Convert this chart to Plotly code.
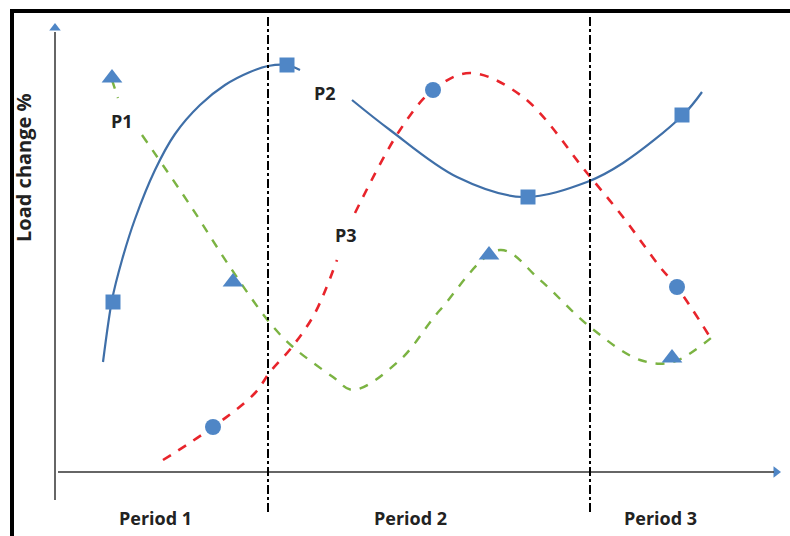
import plotly.graph_objects as go

# ---- data (schematic units: x = time, y = load change) ----
p2a_x = [45, 54, 64, 77, 97, 117, 142, 167, 192, 210, 229, 242]
p2a_y = [110, 172, 212, 253, 302, 338, 367, 387, 400, 406, 407, 402]
p2b_x = [294, 332, 399, 465, 529, 565, 625, 644]
p2b_y = [372, 342, 295, 275, 290, 309, 357, 380]
p2_mx = [55, 229, 470, 624]
p2_my = [170, 407, 275, 357]

p3_x = [105, 155, 197, 212, 234, 257, 279, None, 297, 342, 375, 412, 465, 529, 565, 602, 619, 652]
p3_y = [12, 45, 79, 100, 125, 159, 212, None, 259, 342, 382, 399, 375, 299, 255, 205, 185, 135]
p3_mx = [155, 375, 619]
p3_my = [45, 382, 185]

p1_x = [54, 60, None, 84, 132, 172, 212, 235, 275, 295, 342, 382, 442, 482, 532, 582, 615, 659]
p1_y = [392, 374, None, 337, 267, 205, 149, 125, 95, 82, 112, 162, 222, 192, 145, 112, 110, 139]
p1_mx = [54, 175, 431, 614]
p1_my = [394, 190, 217, 114]

period_bounds = [210, 532]
period_labels = ["Period 1", "Period 2", "Period 3"]
period_label_x = [97, 352, 602]
curve_labels = ["P1", "P2", "P3"]
curve_label_x = [64, 267, 288]
curve_label_y = [351, 379, 237]

BLUE_LINE = "#3f6fa8"
BLUE_MK = "#4f86c6"
RED = "#e8242b"
GREEN = "#7bb342"
TXT = "#222222"

fig = go.Figure()

fig.add_trace(go.Scatter(x=p2a_x, y=p2a_y, mode="lines",
                         line=dict(color=BLUE_LINE, width=2.2, shape="spline", smoothing=0.8)))
fig.add_trace(go.Scatter(x=p2b_x, y=p2b_y, mode="lines",
                         line=dict(color=BLUE_LINE, width=2.2, shape="spline", smoothing=1.0)))
fig.add_trace(go.Scatter(x=p3_x, y=p3_y, mode="lines", connectgaps=False,
                         line=dict(color=RED, width=2.6, dash="dash", shape="spline", smoothing=1.0)))
fig.add_trace(go.Scatter(x=p1_x, y=p1_y, mode="lines", connectgaps=False,
                         line=dict(color=GREEN, width=2.4, dash="dash", shape="spline", smoothing=1.0)))

fig.add_trace(go.Scatter(x=p2_mx, y=p2_my, mode="markers",
                         marker=dict(symbol="square", size=15, color=BLUE_MK)))
fig.add_trace(go.Scatter(x=p3_mx, y=p3_my, mode="markers",
                         marker=dict(symbol="circle", size=16, color=BLUE_MK)))
fig.add_trace(go.Scatter(x=p1_mx, y=p1_my, mode="markers",
                         marker=dict(symbol="triangle-up", size=18, color=BLUE_MK)))

# axis arrows
fig.add_shape(type="line", x0=-3, x1=-3, y0=-28, y1=440, line=dict(color="#333333", width=1.5))
fig.add_shape(type="line", x0=0, x1=716, y0=0, y1=0, line=dict(color="#333333", width=1.5))
fig.add_trace(go.Scatter(x=[-3], y=[444], mode="markers",
                         marker=dict(symbol="triangle-up", size=10, color=BLUE_MK)))
fig.add_trace(go.Scatter(x=[718], y=[0], mode="markers",
                         marker=dict(symbol="triangle-right", size=10, color=BLUE_MK)))

# period boundaries
for xb in period_bounds:
    fig.add_shape(type="line", x0=xb, x1=xb, y0=-40, y1=458,
                  line=dict(color="black", width=2, dash="dashdot"))

# frame
fig.add_shape(type="line", xref="paper", yref="paper", x0=12/790, x1=12/790, y0=0, y1=1 - 10/536,
              line=dict(color="black", width=4))
fig.add_shape(type="line", xref="paper", yref="paper", x0=10/790, x1=1, y0=1 - 11/536, y1=1 - 11/536,
              line=dict(color="black", width=4))

for lbl, lx in zip(period_labels, period_label_x):
    fig.add_annotation(x=lx, y=-46, text=f"<b>{lbl}</b>", showarrow=False,
                       font=dict(family="Open Sans", size=18, color=TXT))
for lbl, lx, ly in zip(curve_labels, curve_label_x, curve_label_y):
    fig.add_annotation(x=lx, y=ly, text=f"<b>{lbl}</b>", showarrow=False,
                       font=dict(family="Open Sans", size=18, color=TXT))

fig.add_annotation(x=-35, y=304, text="<b>Load change %</b>", showarrow=False, textangle=-90,
                   font=dict(family="Open Sans", size=20, color=TXT))

fig.update_layout(
    width=790, height=536,
    margin=dict(l=0, r=0, t=0, b=0),
    paper_bgcolor="white", plot_bgcolor="white",
    showlegend=False,
    xaxis=dict(range=[-58, 732], visible=False, fixedrange=True),
    yaxis=dict(range=[-64, 472], visible=False, fixedrange=True),
)

fig.write_html("out.html", config={"displayModeBar": False},
               post_script="document.body.style.margin='0';document.body.style.overflow='hidden';")
